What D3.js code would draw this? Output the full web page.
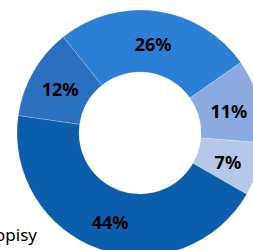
<!DOCTYPE html>
<html>
<head>
<meta charset="utf-8">
<script src="https://cdn.jsdelivr.net/npm/d3@7"></script>
<style>
  html, body { margin: 0; padding: 0; background: #fff; overflow: hidden; }
  svg { display: block; }
</style>
</head>
<body>
<div id="chart"></div>
<script>
    // slice values, in drawing order (clockwise)
    const categories = ["A", "B", "C", "D", "E"];
    const values = [26, 11, 7, 44, 12];
    const sliceColors = ["#2b80d6", "#8aaae0", "#b5c8ea", "#0b5eab", "#2a70be"];
    const legendText = "opisy";

    const width = 253, height = 250;
    const cx = 140, cy = 133;
    const outerR = 123, innerR = 61;

    const svg = d3.select("#chart")
        .append("svg")
        .attr("width", width)
        .attr("height", height);

    const g = svg.append("g")
        .attr("transform", `translate(${cx},${cy})`);

    // start angle (first slice begins up-left of 12 o'clock)
    const pie = d3.pie()
        .sort(null)
        .value(d => d)
        .startAngle(-38.6 * Math.PI / 180)
        .endAngle((360 - 38.6) * Math.PI / 180);

    const arc = d3.arc()
        .innerRadius(innerR)
        .outerRadius(outerR);

    const arcs = pie(values);

    g.selectAll("path")
        .data(arcs)
        .enter()
        .append("path")
        .attr("d", arc)
        .attr("fill", (d, i) => sliceColors[i])
        .attr("stroke", "#ffffff")
        .attr("stroke-opacity", 0.35)
        .attr("stroke-width", 0.6);

    g.selectAll("text.label")
        .data(arcs)
        .enter()
        .append("text")
        .attr("class", "label")
        .attr("transform", d => `translate(${arc.centroid(d)})`)
        .attr("text-anchor", "middle")
        .attr("dy", "0.5em")
        .attr("fill", "#000")
        .style("font-family", "'Noto Sans', 'Open Sans', sans-serif")
        .style("font-weight", "bold")
        .style("font-size", "18px")
        .text(d => `${d.value}%`);

    // legend text, clipped at the left edge as in the original
    svg.append("text")
        .attr("x", 37)
        .attr("y", 241)
        .attr("text-anchor", "end")
        .attr("fill", "#000")
        .style("font-family", "'Noto Sans', 'Open Sans', sans-serif")
        .style("font-size", "17px")
        .text(legendText);
</script>
</body>
</html>
